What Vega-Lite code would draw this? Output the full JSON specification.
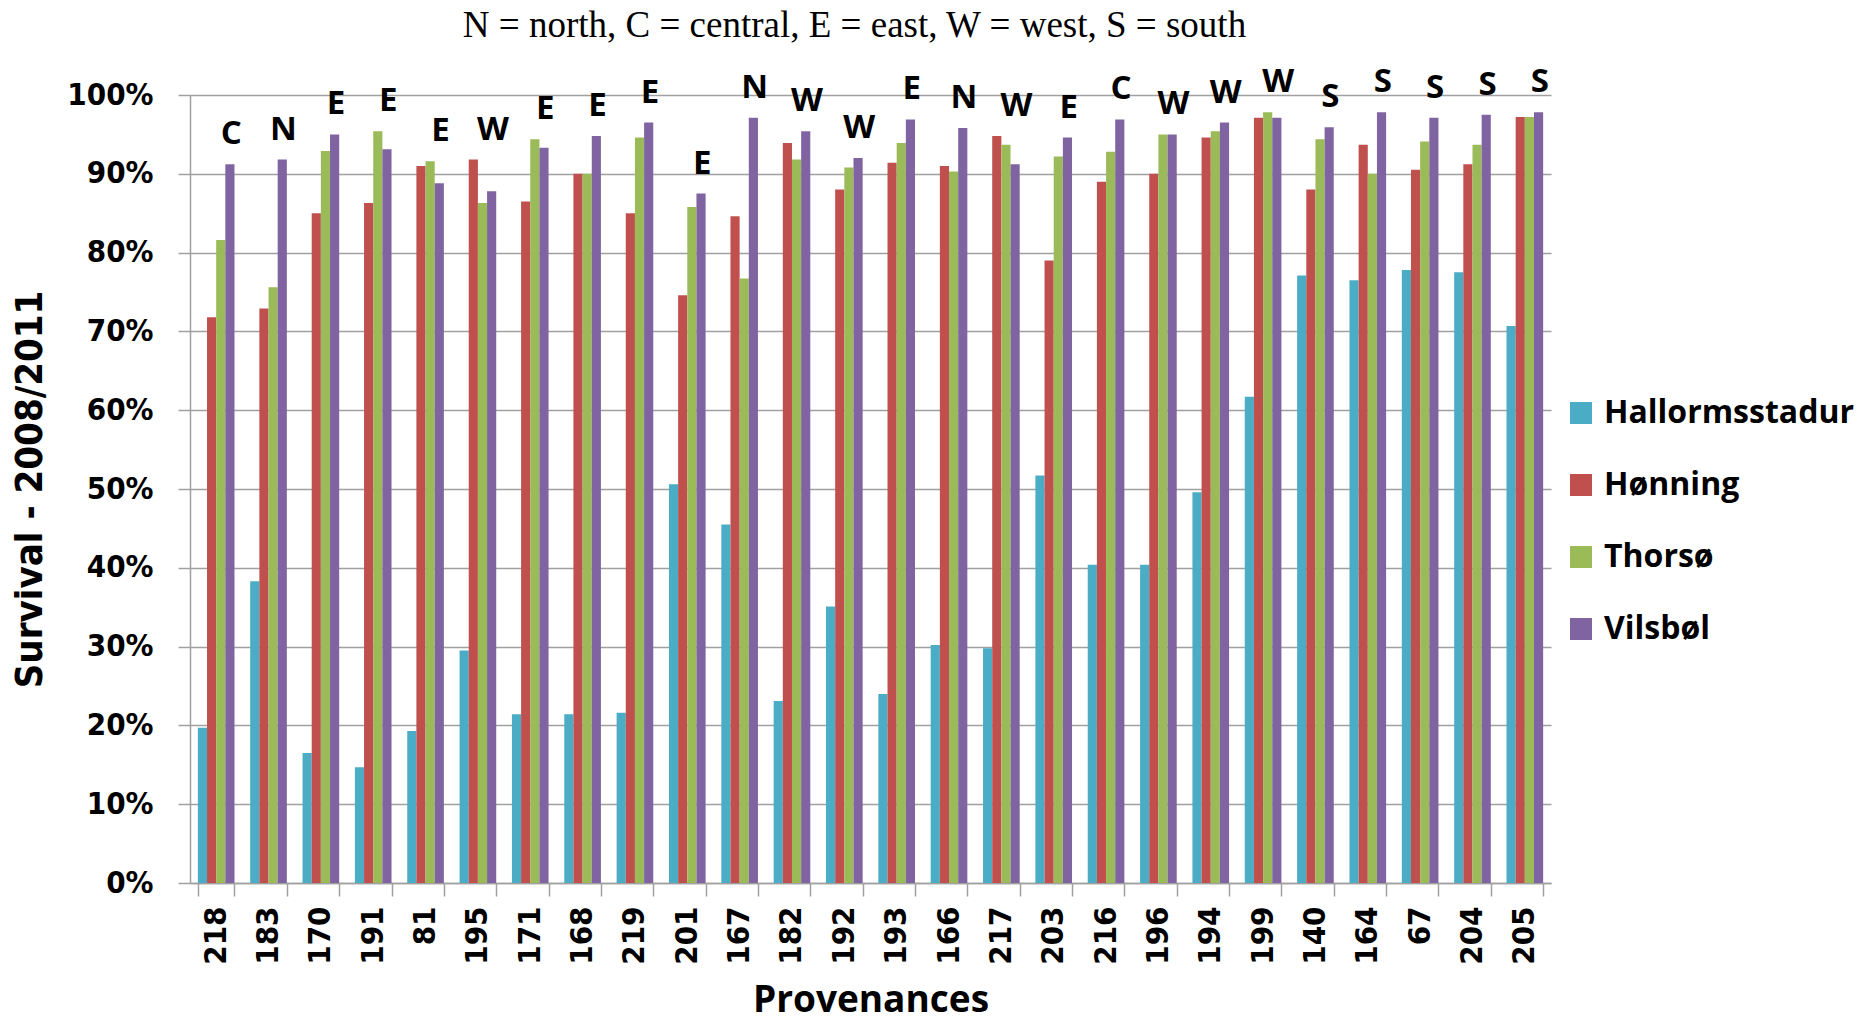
{
  "$schema": "https://vega.github.io/schema/vega-lite/v6.json",
  "width": 1361,
  "height": 788,
  "autosize": {"type": "none"},
  "padding": {"left": 190, "top": 95, "right": 309, "bottom": 139},
  "background": "white",
  "title": {
    "text": "N = north, C = central, E = east, W = west, S = south",
    "font": "Liberation Serif",
    "fontSize": 37,
    "fontWeight": "normal",
    "color": "black",
    "anchor": "middle",
    "frame": "group",
    "baseline": "alphabetic",
    "offset": -8,
    "dx": -16
  },
  "data": {
    "values": [
      {"prov": "218", "region": "C", "site": "Hallormsstadur", "value": 0.197},
      {"prov": "218", "region": "C", "site": "Hønning", "value": 0.718},
      {"prov": "218", "region": "C", "site": "Thorsø", "value": 0.816},
      {"prov": "218", "region": "C", "site": "Vilsbøl", "value": 0.912},
      {"prov": "183", "region": "N", "site": "Hallormsstadur", "value": 0.383},
      {"prov": "183", "region": "N", "site": "Hønning", "value": 0.729},
      {"prov": "183", "region": "N", "site": "Thorsø", "value": 0.756},
      {"prov": "183", "region": "N", "site": "Vilsbøl", "value": 0.918},
      {"prov": "170", "region": "E", "site": "Hallormsstadur", "value": 0.165},
      {"prov": "170", "region": "E", "site": "Hønning", "value": 0.850},
      {"prov": "170", "region": "E", "site": "Thorsø", "value": 0.929},
      {"prov": "170", "region": "E", "site": "Vilsbøl", "value": 0.950},
      {"prov": "191", "region": "E", "site": "Hallormsstadur", "value": 0.147},
      {"prov": "191", "region": "E", "site": "Hønning", "value": 0.863},
      {"prov": "191", "region": "E", "site": "Thorsø", "value": 0.954},
      {"prov": "191", "region": "E", "site": "Vilsbøl", "value": 0.931},
      {"prov": "81", "region": "E", "site": "Hallormsstadur", "value": 0.193},
      {"prov": "81", "region": "E", "site": "Hønning", "value": 0.910},
      {"prov": "81", "region": "E", "site": "Thorsø", "value": 0.916},
      {"prov": "81", "region": "E", "site": "Vilsbøl", "value": 0.888},
      {"prov": "195", "region": "W", "site": "Hallormsstadur", "value": 0.295},
      {"prov": "195", "region": "W", "site": "Hønning", "value": 0.918},
      {"prov": "195", "region": "W", "site": "Thorsø", "value": 0.863},
      {"prov": "195", "region": "W", "site": "Vilsbøl", "value": 0.878},
      {"prov": "171", "region": "E", "site": "Hallormsstadur", "value": 0.214},
      {"prov": "171", "region": "E", "site": "Hønning", "value": 0.865},
      {"prov": "171", "region": "E", "site": "Thorsø", "value": 0.944},
      {"prov": "171", "region": "E", "site": "Vilsbøl", "value": 0.933},
      {"prov": "168", "region": "E", "site": "Hallormsstadur", "value": 0.214},
      {"prov": "168", "region": "E", "site": "Hønning", "value": 0.900},
      {"prov": "168", "region": "E", "site": "Thorsø", "value": 0.900},
      {"prov": "168", "region": "E", "site": "Vilsbøl", "value": 0.948},
      {"prov": "219", "region": "E", "site": "Hallormsstadur", "value": 0.216},
      {"prov": "219", "region": "E", "site": "Hønning", "value": 0.850},
      {"prov": "219", "region": "E", "site": "Thorsø", "value": 0.946},
      {"prov": "219", "region": "E", "site": "Vilsbøl", "value": 0.965},
      {"prov": "201", "region": "E", "site": "Hallormsstadur", "value": 0.506},
      {"prov": "201", "region": "E", "site": "Hønning", "value": 0.746},
      {"prov": "201", "region": "E", "site": "Thorsø", "value": 0.858},
      {"prov": "201", "region": "E", "site": "Vilsbøl", "value": 0.875},
      {"prov": "167", "region": "N", "site": "Hallormsstadur", "value": 0.455},
      {"prov": "167", "region": "N", "site": "Hønning", "value": 0.846},
      {"prov": "167", "region": "N", "site": "Thorsø", "value": 0.767},
      {"prov": "167", "region": "N", "site": "Vilsbøl", "value": 0.971},
      {"prov": "182", "region": "W", "site": "Hallormsstadur", "value": 0.231},
      {"prov": "182", "region": "W", "site": "Hønning", "value": 0.939},
      {"prov": "182", "region": "W", "site": "Thorsø", "value": 0.918},
      {"prov": "182", "region": "W", "site": "Vilsbøl", "value": 0.954},
      {"prov": "192", "region": "W", "site": "Hallormsstadur", "value": 0.351},
      {"prov": "192", "region": "W", "site": "Hønning", "value": 0.880},
      {"prov": "192", "region": "W", "site": "Thorsø", "value": 0.908},
      {"prov": "192", "region": "W", "site": "Vilsbøl", "value": 0.920},
      {"prov": "193", "region": "E", "site": "Hallormsstadur", "value": 0.240},
      {"prov": "193", "region": "E", "site": "Hønning", "value": 0.914},
      {"prov": "193", "region": "E", "site": "Thorsø", "value": 0.939},
      {"prov": "193", "region": "E", "site": "Vilsbøl", "value": 0.969},
      {"prov": "166", "region": "N", "site": "Hallormsstadur", "value": 0.302},
      {"prov": "166", "region": "N", "site": "Hønning", "value": 0.910},
      {"prov": "166", "region": "N", "site": "Thorsø", "value": 0.903},
      {"prov": "166", "region": "N", "site": "Vilsbøl", "value": 0.958},
      {"prov": "217", "region": "W", "site": "Hallormsstadur", "value": 0.298},
      {"prov": "217", "region": "W", "site": "Hønning", "value": 0.948},
      {"prov": "217", "region": "W", "site": "Thorsø", "value": 0.937},
      {"prov": "217", "region": "W", "site": "Vilsbøl", "value": 0.912},
      {"prov": "203", "region": "E", "site": "Hallormsstadur", "value": 0.517},
      {"prov": "203", "region": "E", "site": "Hønning", "value": 0.790},
      {"prov": "203", "region": "E", "site": "Thorsø", "value": 0.922},
      {"prov": "203", "region": "E", "site": "Vilsbøl", "value": 0.946},
      {"prov": "216", "region": "C", "site": "Hallormsstadur", "value": 0.404},
      {"prov": "216", "region": "C", "site": "Hønning", "value": 0.890},
      {"prov": "216", "region": "C", "site": "Thorsø", "value": 0.928},
      {"prov": "216", "region": "C", "site": "Vilsbøl", "value": 0.969},
      {"prov": "196", "region": "W", "site": "Hallormsstadur", "value": 0.404},
      {"prov": "196", "region": "W", "site": "Hønning", "value": 0.900},
      {"prov": "196", "region": "W", "site": "Thorsø", "value": 0.950},
      {"prov": "196", "region": "W", "site": "Vilsbøl", "value": 0.950},
      {"prov": "194", "region": "W", "site": "Hallormsstadur", "value": 0.496},
      {"prov": "194", "region": "W", "site": "Hønning", "value": 0.946},
      {"prov": "194", "region": "W", "site": "Thorsø", "value": 0.954},
      {"prov": "194", "region": "W", "site": "Vilsbøl", "value": 0.965},
      {"prov": "199", "region": "W", "site": "Hallormsstadur", "value": 0.617},
      {"prov": "199", "region": "W", "site": "Hønning", "value": 0.971},
      {"prov": "199", "region": "W", "site": "Thorsø", "value": 0.978},
      {"prov": "199", "region": "W", "site": "Vilsbøl", "value": 0.971},
      {"prov": "140", "region": "S", "site": "Hallormsstadur", "value": 0.771},
      {"prov": "140", "region": "S", "site": "Hønning", "value": 0.880},
      {"prov": "140", "region": "S", "site": "Thorsø", "value": 0.944},
      {"prov": "140", "region": "S", "site": "Vilsbøl", "value": 0.959},
      {"prov": "164", "region": "S", "site": "Hallormsstadur", "value": 0.765},
      {"prov": "164", "region": "S", "site": "Hønning", "value": 0.937},
      {"prov": "164", "region": "S", "site": "Thorsø", "value": 0.900},
      {"prov": "164", "region": "S", "site": "Vilsbøl", "value": 0.978},
      {"prov": "67", "region": "S", "site": "Hallormsstadur", "value": 0.778},
      {"prov": "67", "region": "S", "site": "Hønning", "value": 0.905},
      {"prov": "67", "region": "S", "site": "Thorsø", "value": 0.941},
      {"prov": "67", "region": "S", "site": "Vilsbøl", "value": 0.971},
      {"prov": "204", "region": "S", "site": "Hallormsstadur", "value": 0.775},
      {"prov": "204", "region": "S", "site": "Hønning", "value": 0.912},
      {"prov": "204", "region": "S", "site": "Thorsø", "value": 0.937},
      {"prov": "204", "region": "S", "site": "Vilsbøl", "value": 0.975},
      {"prov": "205", "region": "S", "site": "Hallormsstadur", "value": 0.707},
      {"prov": "205", "region": "S", "site": "Hønning", "value": 0.972},
      {"prov": "205", "region": "S", "site": "Thorsø", "value": 0.972},
      {"prov": "205", "region": "S", "site": "Vilsbøl", "value": 0.978}
    ]
  },
  "encoding": {
    "x": {
      "field": "prov",
      "type": "nominal",
      "scale": {
        "domain": ["218", "183", "170", "191", "81", "195", "171", "168", "219", "201", "167", "182", "192", "193", "166", "217", "203", "216", "196", "194", "199", "140", "164", "67", "204", "205"],
        "paddingInner": 0.3,
        "paddingOuter": 0.15
      },
      "axis": {
        "title": "Provenances",
        "titleFont": "Open Sans",
        "titleFontSize": 37,
        "titleFontWeight": "bold",
        "titleColor": "black",
        "titleY": 128,
        "titleBaseline": "alphabetic",
        "labelAngle": -90,
        "labelFont": "DejaVu Sans Condensed",
        "labelFontWeight": "bold",
        "labelFontSize": 31,
        "labelColor": "black",
        "labelPadding": 10,
        "tickBand": "extent",
        "tickSize": 13,
        "tickColor": "#a0a0a0",
        "tickWidth": 1.5,
        "domainColor": "#a0a0a0",
        "domainWidth": 1.5,
        "grid": false
      }
    },
    "y": {
      "type": "quantitative",
      "title": "Survival - 2008/2011",
      "scale": {"domain": [0, 1], "nice": false},
      "axis": {
        "titleFont": "DejaVu Sans Condensed",
        "titleFontSize": 38,
        "titleFontWeight": "bold",
        "titleColor": "black",
        "titleX": -160,
        "titleY": 394,
        "titleAngle": 270,
        "titleAlign": "center",
        "titleBaseline": "middle",
        "values": [0, 0.1, 0.2, 0.3, 0.4, 0.5, 0.6, 0.7, 0.8, 0.9, 1],
        "format": ".0%",
        "labelFont": "DejaVu Sans Condensed",
        "labelFontWeight": "bold",
        "labelFontSize": 31,
        "labelColor": "black",
        "labelPadding": 25,
        "tickSize": 12,
        "tickColor": "#a0a0a0",
        "tickWidth": 1.5,
        "domainColor": "#a0a0a0",
        "domainWidth": 1.5,
        "grid": true,
        "gridColor": "#a0a0a0",
        "gridWidth": 1.5
      }
    }
  },
  "layer": [
    {
      "mark": {"type": "bar"},
      "encoding": {
        "xOffset": {
          "field": "site",
          "type": "nominal",
          "scale": {"domain": ["Hallormsstadur", "Hønning", "Thorsø", "Vilsbøl"], "paddingInner": 0, "paddingOuter": 0}
        },
        "y": {"field": "value", "type": "quantitative", "title": "Survival - 2008/2011"},
        "color": {
          "field": "site",
          "type": "nominal",
          "scale": {
            "domain": ["Hallormsstadur", "Hønning", "Thorsø", "Vilsbøl"],
            "range": ["#4BACC6", "#C0504D", "#9BBB59", "#8064A2"]
          },
          "legend": {
            "title": null,
            "orient": "none",
            "legendX": 1375,
            "legendY": 302,
            "symbolType": "square",
            "symbolSize": 484,
            "symbolStrokeWidth": 0,
            "labelFont": "Open Sans",
            "labelFontSize": 32,
            "labelFontWeight": "bold",
            "labelColor": "black",
            "labelOffset": 7,
            "labelLimit": 400,
            "rowPadding": 40
          }
        }
      }
    },
    {
      "transform": [
        {"aggregate": [{"op": "max", "field": "value", "as": "top"}], "groupby": ["prov", "region"]}
      ],
      "mark": {
        "type": "text",
        "font": "Open Sans",
        "fontSize": 33,
        "fontWeight": "bold",
        "color": "black",
        "align": "center",
        "baseline": "alphabetic",
        "dx": 15,
        "dy": -20
      },
      "encoding": {
        "y": {"field": "top", "type": "quantitative", "title": "Survival - 2008/2011"},
        "text": {"field": "region", "type": "nominal"}
      }
    }
  ],
  "config": {"view": {"stroke": null}}
}
